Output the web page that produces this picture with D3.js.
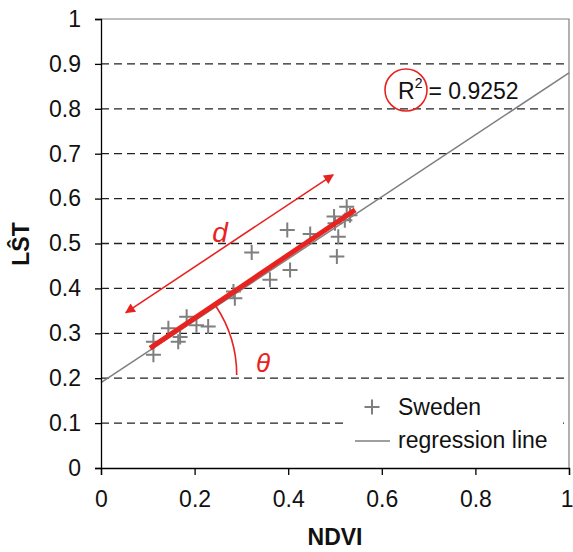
<!DOCTYPE html>
<html><head><meta charset="utf-8">
<script src="https://cdn.jsdelivr.net/npm/d3@7"></script>
<style>body{margin:0;background:#fff}svg{display:block}text{font-family:"Liberation Sans",Arial,sans-serif}</style>
</head><body>
<script>
const ndvi = [0.112,0.112,0.144,0.169,0.165,0.183,0.204,0.229,0.283,0.286,0.322,0.361,0.404,0.398,0.447,0.500,0.507,0.504,0.525,0.532,0.521,0.498];
const lst  = [0.281,0.252,0.311,0.292,0.281,0.337,0.318,0.315,0.393,0.378,0.480,0.419,0.441,0.530,0.521,0.545,0.515,0.471,0.582,0.563,0.552,0.560];
const xTicks = [0,0.2,0.4,0.6,0.8,1];
const xTickLabels = ["0","0.2","0.4","0.6","0.8","1"];
const yTicks = [0,0.1,0.2,0.3,0.4,0.5,0.6,0.7,0.8,0.9,1];
const yTickLabels = ["0","0.1","0.2","0.3","0.4","0.5","0.6","0.7","0.8","0.9","1"];
const regIntercept = 0.19, regSlope = 0.69;
const r2Label = "= 0.9252";
const segStart = [0.105, 0.267], segEnd = [0.543, 0.575];
const arrowStart = [0.496, 0.653], arrowEnd = [0.053, 0.346];

const W=573,H=552, L=101, R=569, T=19, B=468;
const red="#e8231f", gray="#7f7f7f";
const x=d3.scaleLinear().domain([0,1]).range([L,R]);
const y=d3.scaleLinear().domain([0,1]).range([B,T]);
const svg=d3.select("body").append("svg").attr("width",W).attr("height",H);
svg.append("defs").append("marker").attr("id","ah").attr("viewBox","0 0 10 10").attr("refX",9).attr("refY",5)
  .attr("markerWidth",14).attr("markerHeight",10).attr("markerUnits","userSpaceOnUse").attr("orient","auto-start-reverse")
  .append("path").attr("d","M0,0L10,5L0,10z").attr("fill",red);

// grid
svg.append("g").selectAll("line").data(yTicks.filter(v=>v>0&&v<1)).join("line")
  .attr("x1",L).attr("x2",R).attr("y1",d=>y(d)).attr("y2",d=>y(d))
  .attr("stroke","#222").attr("stroke-width",1.3).attr("stroke-dasharray","8,5");
// frame top/right
svg.append("path").attr("d",`M${L},${T}H${R}V${B}`).attr("fill","none").attr("stroke",gray).attr("stroke-width",1.2);

// legend box (white, covers gridline)
svg.append("rect").attr("x",344).attr("y",385).attr("width",219).attr("height",74).attr("fill","#fff");

// regression line
svg.append("line").attr("x1",x(0)).attr("y1",y(regIntercept)).attr("x2",x(1)).attr("y2",y(regIntercept+regSlope))
  .attr("stroke",gray).attr("stroke-width",1.5);

// points
const cs=7.5;
const pts=svg.append("g").attr("stroke",gray).attr("stroke-width",2);
ndvi.forEach((v,i)=>{
  const cx=x(v), cy=y(lst[i]);
  pts.append("path").attr("d",`M${cx-cs},${cy}H${cx+cs}M${cx},${cy-cs}V${cy+cs}`);
});

// red thick segment
svg.append("line").attr("x1",x(segStart[0])).attr("y1",y(segStart[1])).attr("x2",x(segEnd[0])).attr("y2",y(segEnd[1]))
  .attr("stroke",red).attr("stroke-width",5);
// arrow
svg.append("line").attr("x1",x(arrowStart[0])).attr("y1",y(arrowStart[1])).attr("x2",x(arrowEnd[0])).attr("y2",y(arrowEnd[1]))
  .attr("stroke",red).attr("stroke-width",1.6).attr("marker-start","url(#ah)").attr("marker-end","url(#ah)");
svg.append("text").attr("x",220).attr("y",242).attr("fill",red).attr("font-size",28).attr("font-style","italic").attr("text-anchor","middle").text("d");

// angle arc
const cxA=x(0.025), cyA=y(regIntercept+regSlope*0.025);
const ang=Math.atan2(y(regIntercept)-y(regIntercept+regSlope), x(1)-x(0));
const rA=124;
svg.append("path").attr("d",`M${cxA+rA*Math.cos(ang)},${cyA-rA*Math.sin(ang)} A${rA},${rA} 0 0 1 ${cxA+rA},${cyA}`)
  .attr("fill","none").attr("stroke",red).attr("stroke-width",1.6);
svg.append("text").attr("x",263).attr("y",372).attr("fill",red).attr("font-size",26).attr("font-style","italic").attr("text-anchor","middle").attr("font-family","DejaVu Serif").text("θ");

// R2
svg.append("circle").attr("cx",406).attr("cy",90).attr("r",21).attr("fill","none").attr("stroke",red).attr("stroke-width",1.6);
const rt=svg.append("text").attr("x",398).attr("y",99).attr("font-size",23).attr("fill","#111");
rt.append("tspan").text("R");
rt.append("tspan").attr("font-size",14).attr("dy",-11).text("2");
rt.append("tspan").attr("dy",11).attr("dx",6).text(r2Label);

// axes
svg.append("g").attr("transform",`translate(${L},0)`).call(d3.axisLeft(y).tickValues(yTicks).tickFormat((d,i)=>yTickLabels[i]).tickSize(6).tickPadding(14))
  .call(g=>{g.select(".domain").attr("stroke","#000").attr("stroke-width",1.3);g.selectAll(".tick line").attr("stroke","#000").attr("stroke-width",1.3);
    g.selectAll("text").attr("font-size",23).attr("fill","#111").attr("font-family","Liberation Sans, Arial");});
const xa=svg.append("g").attr("transform",`translate(0,${B})`).call(d3.axisBottom(x).tickValues(xTicks).tickFormat((d,i)=>xTickLabels[i]).tickSize(7).tickPadding(12))
  .call(g=>{g.select(".domain").attr("stroke","#000").attr("stroke-width",1.3);g.selectAll(".tick line").attr("stroke","#000").attr("stroke-width",1.3);
    g.selectAll("text").attr("font-size",23).attr("fill","#111").attr("font-family","Liberation Sans, Arial").attr("dy","0.85em");});
xa.selectAll(".tick text").filter(d=>d===1).attr("text-anchor","end").attr("x",4);

svg.append("text").attr("transform","translate(29,244) rotate(-90)").attr("text-anchor","middle").attr("font-size",23).attr("font-weight","bold").attr("fill","#111").text("LŜT");
svg.append("text").attr("x",(L+R)/2).attr("y",545).attr("text-anchor","middle").attr("font-size",23).attr("font-weight","bold").attr("fill","#111").text("NDVI");

// legend
const lx=372, ly=407;
svg.append("path").attr("d",`M${lx-cs},${ly}H${lx+cs}M${lx},${ly-cs}V${ly+cs}`).attr("stroke",gray).attr("stroke-width",2);
svg.append("text").attr("x",398).attr("y",415).attr("font-size",23).attr("fill","#111").text("Sweden");
svg.append("line").attr("x1",355).attr("x2",390).attr("y1",441).attr("y2",441).attr("stroke",gray).attr("stroke-width",1.5);
svg.append("text").attr("x",398).attr("y",448).attr("font-size",23).attr("fill","#111").text("regression line");
</script>
</body></html>
